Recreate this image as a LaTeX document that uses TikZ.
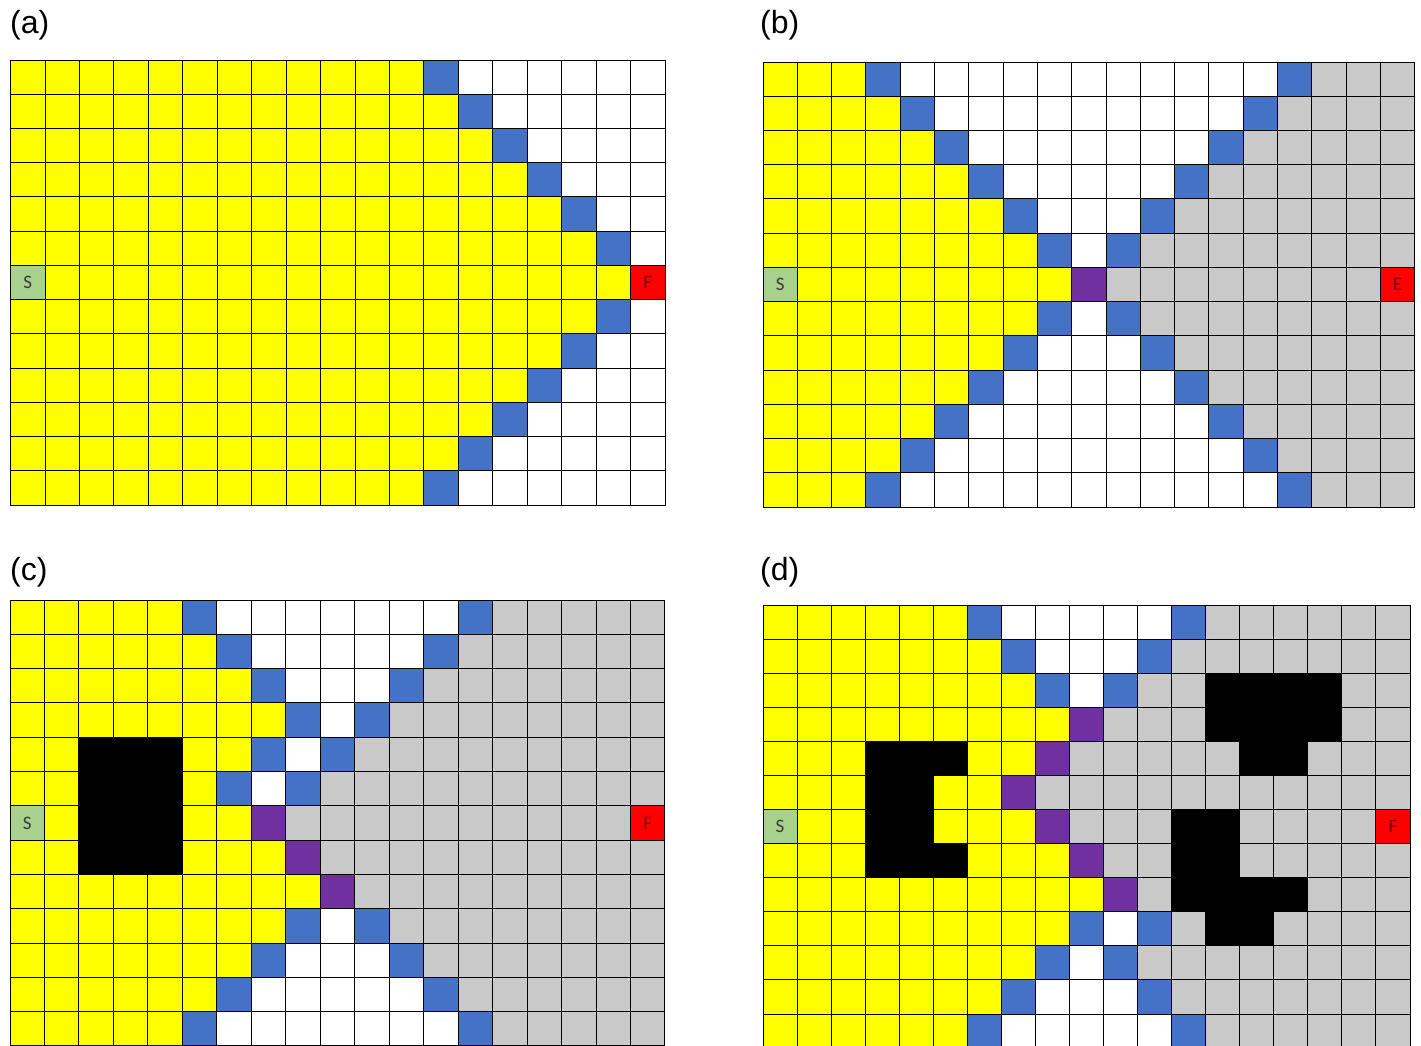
\documentclass[tikz,border=0pt]{standalone}
\usepackage{fontspec}
\setmainfont{Liberation Sans}
\newfontfamily\calfont{Carlito}
\definecolor{cy}{HTML}{FFFF00}
\definecolor{cb}{HTML}{4472C4}
\definecolor{cg}{HTML}{C9C9C9}
\definecolor{cp}{HTML}{7030A0}
\definecolor{cs}{HTML}{A9D18E}
\definecolor{cr}{HTML}{FF0000}
\definecolor{stxt}{HTML}{3A3A3A}
\definecolor{ftxt}{HTML}{7A0000}
\newcount\cellcol
\newcommand\gridrow[2]{%
  \global\cellcol=0\relax
  \foreach \cc/\nn in {#2}{%
    \foreach \kk in {1,...,\nn}{%
      \edef\cellopts{cell,c\cc}%
      \expandafter\path\expandafter[\cellopts] ({\gx+\the\cellcol*\gw},{-\gy-#1*\gh}) rectangle ++(\gw,-\gh);%
      \global\advance\cellcol by 1\relax
    }%
  }%
}
\newcommand\setpanel[4]{\def\gx{#1}\def\gy{#2}\def\gw{#3}\def\gh{#4}}
\tikzset{
  cell/.style={draw=black,line width=0.9pt},
  cY/.style={fill=cy}, cB/.style={fill=cb}, cW/.style={fill=white},
  cG/.style={fill=cg}, cP/.style={fill=cp}, cK/.style={fill=black},
  cS/.style={fill=cs}, cF/.style={fill=cr}, cE/.style={fill=cr},
  panellab/.style={anchor=base west,inner sep=0pt,font=\fontsize{32}{38}\selectfont},
  slab/.style={inner sep=0pt,text=stxt,font=\calfont\fontsize{19}{22}\selectfont},
  flab/.style={inner sep=0pt,text=ftxt,font=\calfont\fontsize{19}{22}\selectfont}
}
\begin{document}
\begin{tikzpicture}[x=1pt,y=1pt]
\useasboundingbox (0,0) rectangle (1421,-1046);
\clip (0,0) rectangle (1421,-1046);
\fill[white] (0,0) rectangle (1421,-1046);
% panel labels
\node[panellab] (la) at (10,-34) {(a)};
\node[panellab] (lb) at (760,-34) {(b)};
\node[panellab] (lc) at (10,-580) {(c)};
\node[panellab] (ld) at (760,-580) {(d)};
% ---------- (a)
\setpanel{10.5}{60}{34.45}{34.23}
\gridrow{0}{Y/12,B/1,W/6}
\gridrow{1}{Y/13,B/1,W/5}
\gridrow{2}{Y/14,B/1,W/4}
\gridrow{3}{Y/15,B/1,W/3}
\gridrow{4}{Y/16,B/1,W/2}
\gridrow{5}{Y/17,B/1,W/1}
\gridrow{6}{S/1,Y/17,F/1}
\gridrow{7}{Y/17,B/1,W/1}
\gridrow{8}{Y/16,B/1,W/2}
\gridrow{9}{Y/15,B/1,W/3}
\gridrow{10}{Y/14,B/1,W/4}
\gridrow{11}{Y/13,B/1,W/5}
\gridrow{12}{Y/12,B/1,W/6}
\node[slab] (sa) at ({\gx+0.5*\gw},{-\gy-6.5*\gh}) {S};
\node[flab] (fa) at ({\gx+18.5*\gw},{-\gy-6.5*\gh}) {F};
% ---------- (b)
\setpanel{763}{62}{34.3}{34.23}
\gridrow{0}{Y/3,B/1,W/11,B/1,G/3}
\gridrow{1}{Y/4,B/1,W/9,B/1,G/4}
\gridrow{2}{Y/5,B/1,W/7,B/1,G/5}
\gridrow{3}{Y/6,B/1,W/5,B/1,G/6}
\gridrow{4}{Y/7,B/1,W/3,B/1,G/7}
\gridrow{5}{Y/8,B/1,W/1,B/1,G/8}
\gridrow{6}{S/1,Y/8,P/1,G/8,E/1}
\gridrow{7}{Y/8,B/1,W/1,B/1,G/8}
\gridrow{8}{Y/7,B/1,W/3,B/1,G/7}
\gridrow{9}{Y/6,B/1,W/5,B/1,G/6}
\gridrow{10}{Y/5,B/1,W/7,B/1,G/5}
\gridrow{11}{Y/4,B/1,W/9,B/1,G/4}
\gridrow{12}{Y/3,B/1,W/11,B/1,G/3}
\node[slab] (sb) at ({\gx+0.5*\gw},{-\gy-6.5*\gh}) {S};
\node[flab] (eb) at ({\gx+18.5*\gw},{-\gy-6.5*\gh}) {E};
% ---------- (c)
\setpanel{10}{600}{34.47}{34.3}
\gridrow{0}{Y/5,B/1,W/7,B/1,G/5}
\gridrow{1}{Y/6,B/1,W/5,B/1,G/6}
\gridrow{2}{Y/7,B/1,W/3,B/1,G/7}
\gridrow{3}{Y/8,B/1,W/1,B/1,G/8}
\gridrow{4}{Y/2,K/3,Y/2,B/1,W/1,B/1,G/9}
\gridrow{5}{Y/2,K/3,Y/1,B/1,W/1,B/1,G/10}
\gridrow{6}{S/1,Y/1,K/3,Y/2,P/1,G/10,F/1}
\gridrow{7}{Y/2,K/3,Y/3,P/1,G/10}
\gridrow{8}{Y/9,P/1,G/9}
\gridrow{9}{Y/8,B/1,W/1,B/1,G/8}
\gridrow{10}{Y/7,B/1,W/3,B/1,G/7}
\gridrow{11}{Y/6,B/1,W/5,B/1,G/6}
\gridrow{12}{Y/5,B/1,W/7,B/1,G/5}
\node[slab] (sc) at ({\gx+0.5*\gw},{-\gy-6.5*\gh}) {S};
\node[flab] (fc) at ({\gx+18.5*\gw},{-\gy-6.5*\gh}) {F};
% ---------- (d)
\setpanel{763}{605}{34.05}{34.08}
\gridrow{0}{Y/6,B/1,W/5,B/1,G/6}
\gridrow{1}{Y/7,B/1,W/3,B/1,G/7}
\gridrow{2}{Y/8,B/1,W/1,B/1,G/2,K/4,G/2}
\gridrow{3}{Y/9,P/1,G/3,K/4,G/2}
\gridrow{4}{Y/3,K/3,Y/2,P/1,G/5,K/2,G/3}
\gridrow{5}{Y/3,K/2,Y/2,P/1,G/11}
\gridrow{6}{S/1,Y/2,K/2,Y/3,P/1,G/3,K/2,G/4,F/1}
\gridrow{7}{Y/3,K/3,Y/3,P/1,G/2,K/2,G/5}
\gridrow{8}{Y/10,P/1,G/1,K/4,G/3}
\gridrow{9}{Y/9,B/1,W/1,B/1,G/1,K/2,G/4}
\gridrow{10}{Y/8,B/1,W/1,B/1,G/8}
\gridrow{11}{Y/7,B/1,W/3,B/1,G/7}
\gridrow{12}{Y/6,B/1,W/5,B/1,G/6}
\node[slab] (sd) at ({\gx+0.5*\gw},{-\gy-6.5*\gh}) {S};
\node[flab] (fd) at ({\gx+18.5*\gw},{-\gy-6.5*\gh}) {F};
\end{tikzpicture}
\end{document}
